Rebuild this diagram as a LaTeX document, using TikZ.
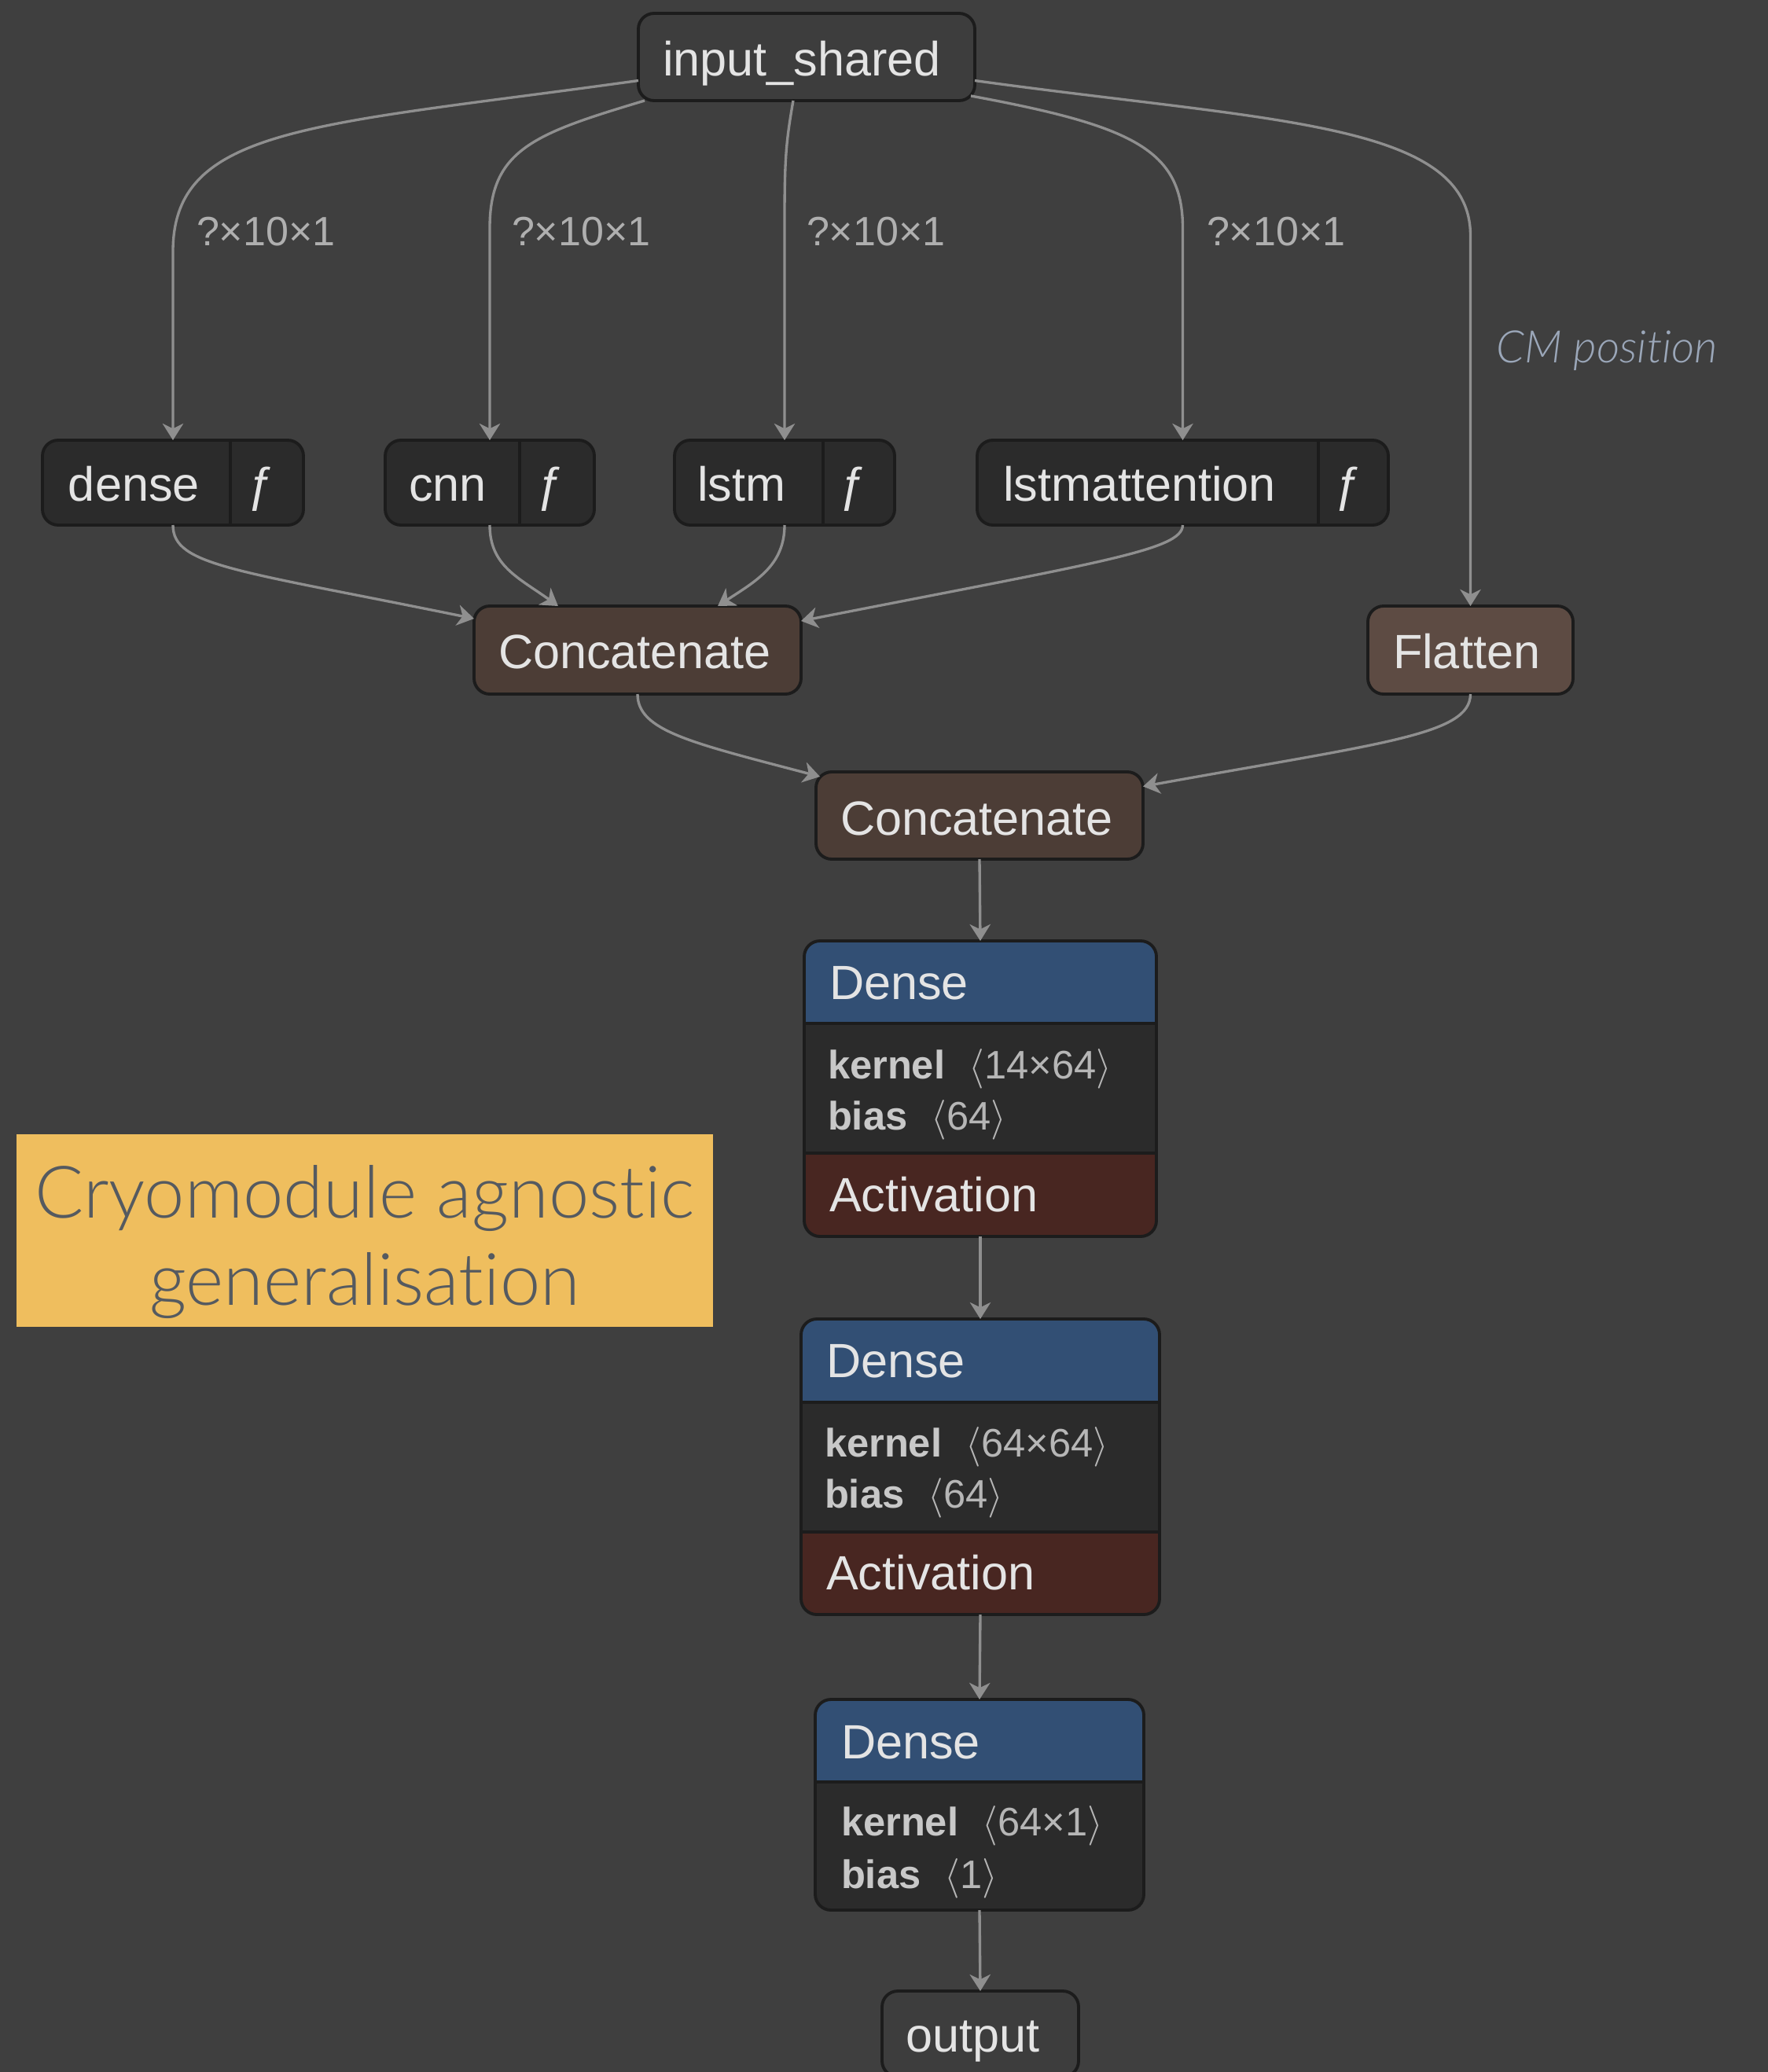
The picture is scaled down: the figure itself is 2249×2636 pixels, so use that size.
\documentclass[tikz,border=0pt]{standalone}
\usepackage{fontspec}
\setmainfont{Liberation Sans}
\newfontfamily\notefont{Lato}[UprightFont={* Light}, ItalicFont={* Light Italic}, Ligatures={NoCommon}]
\usetikzlibrary{arrows.meta, fit}

\definecolor{bg}{HTML}{3F3F3F}
\definecolor{plainfill}{HTML}{3D3D3D}
\definecolor{opfill}{HTML}{2B2B2B}
\definecolor{bord}{HTML}{1C1C1C}
\definecolor{concatfill}{HTML}{4C3D36}
\definecolor{flatfill}{HTML}{5D4B43}
\definecolor{hdrfill}{HTML}{324F74}
\definecolor{actfill}{HTML}{482621}
\definecolor{edgecol}{HTML}{8F8F8F}
\definecolor{titlecol}{HTML}{E4E4E4}
\definecolor{keycol}{HTML}{C8C8C8}
\definecolor{valcol}{HTML}{B6B6B6}
\definecolor{lblcol}{HTML}{AFAFAF}
\definecolor{cmcol}{HTML}{9BA7B9}
\definecolor{notefill}{HTML}{EFBE5E}
\definecolor{notetext}{HTML}{555A60}

\newcommand\fsz[1]{\fontsize{#1}{#1}\selectfont}
\newcommand\param[2]{{\bfseries\color{keycol}#1}\hspace{0.6em}{\color{valcol}$\langle$#2$\rangle$}}

\tikzset{
  box/.style={draw=bord, line width=1.1pt, rounded corners=0.2cm, inner sep=0pt, outer sep=0pt},
  sep/.style={draw=bord, line width=1pt},
  title/.style={inner sep=0pt, outer sep=0pt, anchor=base west, text=titlecol, font=\fsz{17.4pt}},
  fcell/.style={inner sep=0pt, outer sep=0pt, anchor=base, text=titlecol, font=\fsz{17.4pt}},
  parm/.style={inner sep=0pt, outer sep=0pt, anchor=base west, font=\fsz{14.4pt}},
  shape lbl/.style={inner sep=0pt, outer sep=0pt, anchor=base west, text=lblcol, font=\fsz{14.8pt}},
  edge/.style={draw=edgecol, line width=0.95pt, -{Stealth[length=6pt, width=7.5pt, inset=1.8pt]}},
}

\begin{document}
\begin{tikzpicture}[x=0.01cm, y=-0.01cm]
\fill[bg] (0,0) rectangle (2249,2636);
\useasboundingbox (0,0) rectangle (2249,2636);

% ---------- input ----------
\node[box, fill=plainfill, fit={(812,17) (1240,128)}] (input) {};
\node[title] (input-t) at (843,97) {input\_shared};

% ---------- branch functions ----------
\node[box, fill=opfill, fit={(54,560) (386,668)}] (dense) {};
\draw[sep] (293,560) -- (293,668);
\node[title] (dense-t) at (87,637) {dense};
\node[fcell] (dense-f) at (333,637) {ƒ};

\node[box, fill=opfill, fit={(490,560) (756,668)}] (cnn) {};
\draw[sep] (661,560) -- (661,668);
\node[title] (cnn-t) at (520,637) {cnn};
\node[fcell] (cnn-f) at (701,637) {ƒ};

\node[box, fill=opfill, fit={(858,560) (1138,668)}] (lstm) {};
\draw[sep] (1047,560) -- (1047,668);
\node[title] (lstm-t) at (887,637) {lstm};
\node[fcell] (lstm-f) at (1086,637) {ƒ};

\node[box, fill=opfill, fit={(1243,560) (1766,668)}] (lstmatt) {};
\draw[sep] (1677,560) -- (1677,668);
\node[title] (lstmatt-t) at (1276,637) {lstmattention};
\node[fcell] (lstmatt-f) at (1715,637) {ƒ};

% ---------- merge layers ----------
\node[box, fill=concatfill, fit={(603,771) (1019,883)}] (concat1) {};
\node[title] (concat1-t) at (634,850) {Concatenate};

\node[box, fill=flatfill, fit={(1740,771) (2001,883)}] (flatten) {};
\node[title] (flatten-t) at (1772,850) {Flatten};

\node[box, fill=concatfill, fit={(1038,982) (1454,1093)}] (concat2) {};
\node[title] (concat2-t) at (1069,1062) {Concatenate};

% ---------- Dense 1 ----------
\begin{scope}
  \clip[rounded corners=0.2cm] (1023,1197) rectangle (1471,1573);
  \fill[hdrfill] (1023,1197) rectangle (1471,1302);
  \fill[opfill] (1023,1302) rectangle (1471,1467);
  \fill[actfill] (1023,1467) rectangle (1471,1573);
\end{scope}
\draw[sep] (1023,1302) -- (1471,1302);
\draw[sep] (1023,1467) -- (1471,1467);
\node[box, fit={(1023,1197) (1471,1573)}] (d1) {};
\node[title] (d1-h) at (1055,1271) {Dense};
\node[parm] (d1-k) at (1053,1372) {\param{kernel}{14×64}};
\node[parm] (d1-b) at (1053,1437) {\param{bias}{64}};
\node[title] (d1-a) at (1055,1541) {Activation};

% ---------- Dense 2 ----------
\begin{scope}
  \clip[rounded corners=0.2cm] (1019,1678) rectangle (1475,2054);
  \fill[hdrfill] (1019,1678) rectangle (1475,1784);
  \fill[opfill] (1019,1784) rectangle (1475,1949);
  \fill[actfill] (1019,1949) rectangle (1475,2054);
\end{scope}
\draw[sep] (1019,1784) -- (1475,1784);
\draw[sep] (1019,1949) -- (1475,1949);
\node[box, fit={(1019,1678) (1475,2054)}] (d2) {};
\node[title] (d2-h) at (1051,1752) {Dense};
\node[parm] (d2-k) at (1049,1853) {\param{kernel}{64×64}};
\node[parm] (d2-b) at (1049,1918) {\param{bias}{64}};
\node[title] (d2-a) at (1051,2022) {Activation};

% ---------- Dense 3 ----------
\begin{scope}
  \clip[rounded corners=0.2cm] (1037,2162) rectangle (1455,2430);
  \fill[hdrfill] (1037,2162) rectangle (1455,2267);
  \fill[opfill] (1037,2267) rectangle (1455,2430);
\end{scope}
\draw[sep] (1037,2267) -- (1455,2267);
\node[box, fit={(1037,2162) (1455,2430)}] (d3) {};
\node[title] (d3-h) at (1070,2237) {Dense};
\node[parm] (d3-k) at (1070,2335) {\param{kernel}{64×1}};
\node[parm] (d3-b) at (1070,2402) {\param{bias}{1}};

% ---------- output ----------
\node[box, fill=plainfill, fit={(1122,2533) (1372,2642)}] (output) {};
\node[title] (output-t) at (1152,2610) {output};

% ---------- connectors ----------
\draw[edge] ([yshift=-0.3cm]input.west) .. controls (400,160) and (220,160) .. (dense.north |- 0,320) -- (dense.north);
\draw[edge] ([xshift=0.08cm]input.south west) .. controls (680,170) and (cnn.north |- 0,190) .. (cnn.north |- 0,290) -- (cnn.north);
\draw[edge] ([xshift=-0.17cm]input.south) .. controls (1000,180) and (lstm.north |- 0,200) .. (lstm.north |- 0,280) -- (lstm.north);
\draw[edge] ([xshift=-0.05cm,yshift=0.06cm]input.south east) .. controls (1440,160) and (lstmatt.north |- 0,190) .. (lstmatt.north |- 0,290) -- (lstmatt.north);
\draw[edge] ([yshift=-0.3cm]input.east) .. controls (1620,155) and (flatten.north |- 0,155) .. (flatten.north |- 0,300) -- (flatten.north);

\draw[edge] (dense.south) .. controls (220,720) and (300,725) .. ([yshift=0.4cm]concat1.west);
\draw[edge] (cnn.south) .. controls (623,720) and (660,735) .. ([xshift=-1.01cm]concat1.north);
\draw[edge] (lstm.south) .. controls (998,720) and (960,740) .. ([xshift=1.02cm]concat1.north);
\draw[edge] (lstmatt.south) .. controls (1504,700) and (1400,715) .. ([yshift=0.37cm]concat1.east);
\draw[edge] (concat1.south) .. controls (811,930) and (880,945) .. ([xshift=0.05cm,yshift=-0.06cm]concat2.north west);
\draw[edge] (flatten.south) .. controls (1870,935) and (1760,945) .. ([yshift=0.37cm]concat2.east);

\draw[edge] (concat2.south) -- (d1.north);
\draw[edge] (d1.south) -- (d2.north);
\draw[edge] (d2.south) -- (d3.north);
\draw[edge] (d3.south) -- (output.north);

% ---------- edge labels ----------
\node[shape lbl] (l1) at (250,312) {?×10×1};
\node[shape lbl] (l2) at (651,312) {?×10×1};
\node[shape lbl] (l3) at (1026,312) {?×10×1};
\node[shape lbl] (l4) at (1535,312) {?×10×1};
\node[inner sep=0pt, anchor=base west, text=cmcol, font=\notefont\itshape\fsz{16.2pt}] (l5) at (1903,461) {CM position};

% ---------- note ----------
\node[fill=notefill, inner sep=0pt, fit={(21,1443) (907,1688)}] (note) {};
\node[inner sep=0pt, anchor=base, text=notetext, font=\notefont\fsz{26.2pt}] (note-1) at (464,1549) {Cryomodule agnostic};
\node[inner sep=0pt, anchor=base, text=notetext, font=\notefont\fsz{26.2pt}] (note-2) at (464,1660) {generalisation};
\end{tikzpicture}
\end{document}
